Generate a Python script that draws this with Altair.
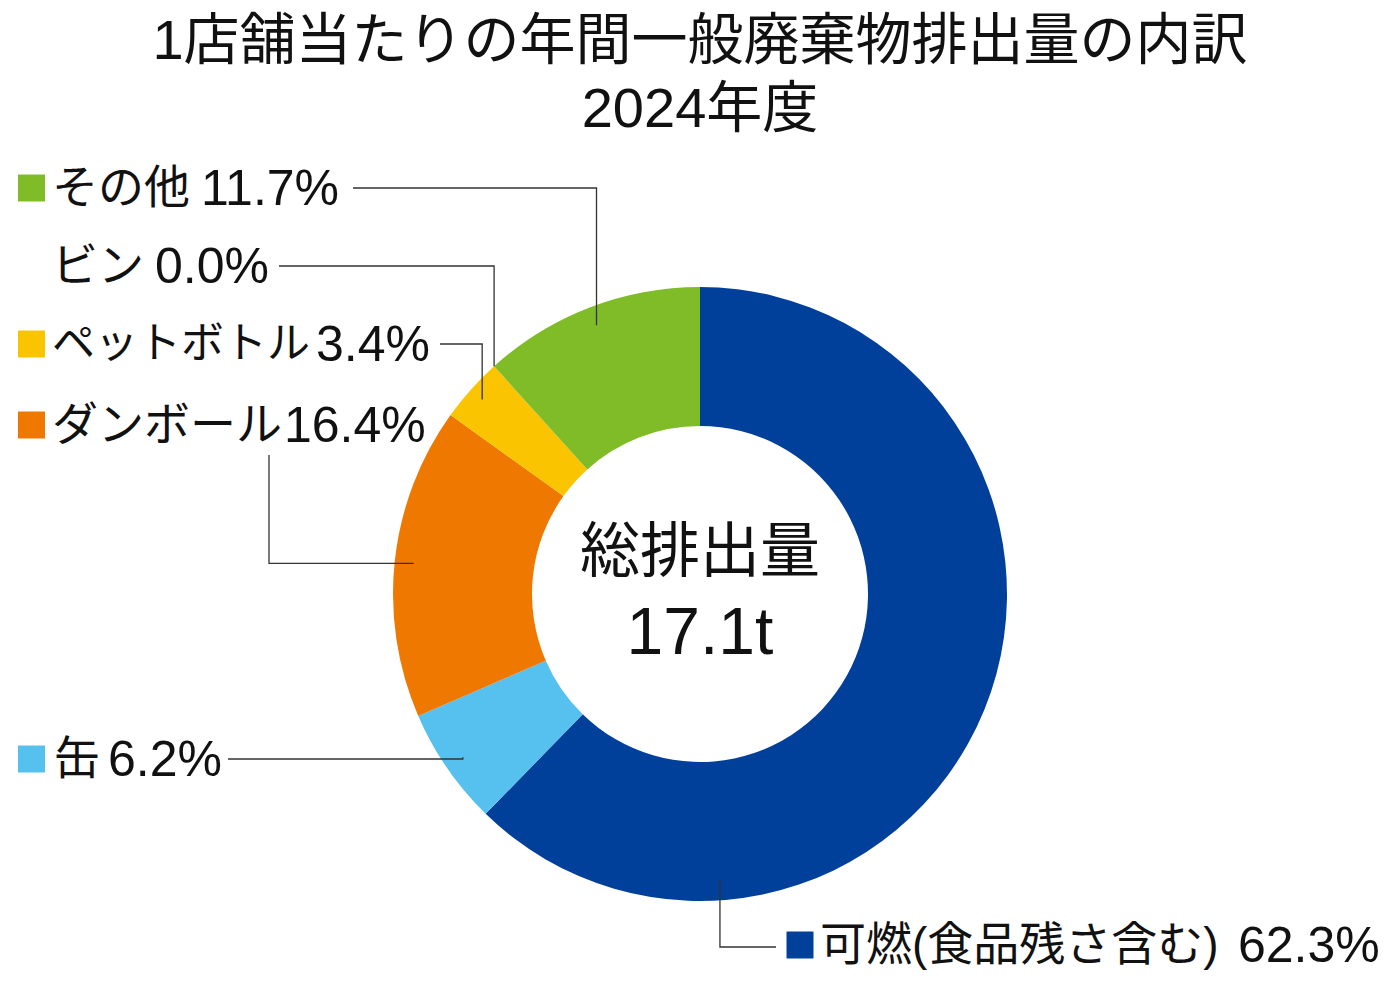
import math
import altair as alt
import pandas as pd

# ---------------- data ----------------
categories = ["可燃(食品残さ含む)", "缶", "ダンボール", "ペットボトル", "ビン", "その他"]
values = [62.3, 6.2, 16.4, 3.4, 0.0, 11.7]
colors = ["#00409A", "#56C1EF", "#EE7800", "#FAC500", "#9E9E9E", "#80BC28"]
show_square = [True, True, True, True, False, True]

title_lines = ["1店舗当たりの年間一般廃棄物排出量の内訳", "2024年度"]
center_lines = ["総排出量", "17.1t"]

# ---------------- layout (image pixel coordinates) ----------------
W, H, OFF = 1384, 984, 8
CX, CY = 700, 594
R_OUT, R_IN = 307, 168
name_x = [820, 54, 52, 52, 52, 52]
name_size = [46, 46, 46, 43, 46, 46]
value_x = [1238, 108, 284, 316, 155, 201]
label_y = [945, 759, 425, 344, 266, 188]
square_x = [800, 31.5, 31.5, 31.5, 31.5, 31.5]
line_start = [(776, 947), (228, 759), (269, 455), (440, 344), (279, 266), (353, 188)]
elbow_kind = ["hv", "hv", "vh", "hv", "hv", "hv"]
anchor_r = [286, 288, 288, 292, 307, 288]
anchor_angle_override = {0: 176.0}
title_y = [42, 110]
center_y = [554, 634]
FONT = "Liberation Sans, Noto Sans CJK JP"

# ---------------- derived tables ----------------
total = sum(values)
starts, c = [], 0.0
for v in values:
    starts.append(c)
    c += v

pie = pd.DataFrame({"name": categories, "value": values, "order": list(range(len(values)))})

line_rows = []
for i, name in enumerate(categories):
    ang = anchor_angle_override.get(i, (starts[i] + values[i] / 2) / total * 360.0)
    a = math.radians(ang)
    ax = CX + anchor_r[i] * math.sin(a)
    ay = CY - anchor_r[i] * math.cos(a)
    sx, sy = line_start[i]
    if elbow_kind[i] == "hv":
        ex, ey = ax, sy
    else:
        ex, ey = sx, ay
    for k, (px, py) in enumerate([(sx, sy), (ex, ey), (ax, ay)]):
        line_rows.append({"name": name, "idx": k, "x": px - OFF, "y": py - OFF})
lines = pd.DataFrame(line_rows)

names_df = pd.DataFrame({
    "text": categories,
    "x": [x - OFF for x in name_x],
    "y": [y - OFF for y in label_y],
    "size": name_size,
})
values_df = pd.DataFrame({
    "text": [f"{v:.1f}%" for v in values],
    "x": [x - OFF for x in value_x],
    "y": [y - OFF for y in label_y],
})
squares = pd.DataFrame({
    "name": [n for n, s in zip(categories, show_square) if s],
    "x": [x - OFF for x, s in zip(square_x, show_square) if s],
    "y": [y - OFF for y, s in zip(label_y, show_square) if s],
})
titles = pd.DataFrame({"text": title_lines, "x": [CX - OFF] * 2, "y": [y - OFF for y in title_y]})
centers = pd.DataFrame({"text": center_lines, "x": [CX - OFF] * 2, "y": [y - OFF for y in center_y],
                        "size": [60, 66]})

xs = alt.Scale(domain=[0, W], range=[0, W])
ys = alt.Scale(domain=[0, H], range=[0, H])
cscale = alt.Scale(domain=categories, range=colors)

X = alt.X("x:Q", scale=xs, axis=None)
Y = alt.Y("y:Q", scale=ys, axis=None)

arc = alt.Chart(pie).mark_arc(innerRadius=R_IN, outerRadius=R_OUT, x=CX - OFF, y=CY - OFF).encode(
    theta=alt.Theta("value:Q", stack=True),
    order=alt.Order("order:Q"),
    color=alt.Color("name:N", scale=cscale, legend=None),
)

leader = alt.Chart(lines).mark_line(color="#333333", strokeWidth=1.3).encode(
    x=X, y=Y, detail="name:N", order="idx:Q"
)

name_text = alt.Chart(names_df).mark_text(
    align="left", baseline="middle", font=FONT, color="#111111", dy=1
).encode(x=X, y=Y, text="text:N", size=alt.Size("size:Q", scale=None, legend=None))

value_text = alt.Chart(values_df).mark_text(
    align="left", baseline="middle", font=FONT, fontSize=50, color="#111111", dy=2
).encode(x=X, y=Y, text="text:N")

square = alt.Chart(squares).mark_square(size=729, opacity=1).encode(
    x=X, y=Y, color=alt.Color("name:N", scale=cscale, legend=None)
)

title_text = alt.Chart(titles).mark_text(
    align="center", baseline="middle", font=FONT, fontSize=56, color="#111111"
).encode(x=X, y=Y, text="text:N")

center_text = alt.Chart(centers).mark_text(
    align="center", baseline="middle", font=FONT, color="#111111"
).encode(x=X, y=Y, text="text:N", size=alt.Size("size:Q", scale=None, legend=None))

chart = alt.layer(arc, leader, square, name_text, value_text, title_text, center_text).properties(
    width=W, height=H, padding=0, autosize=alt.AutoSizeParams(type="none"), background="white"
).configure_view(stroke=None)

chart.save("out.html", embed_options={"renderer": "svg", "actions": False})
